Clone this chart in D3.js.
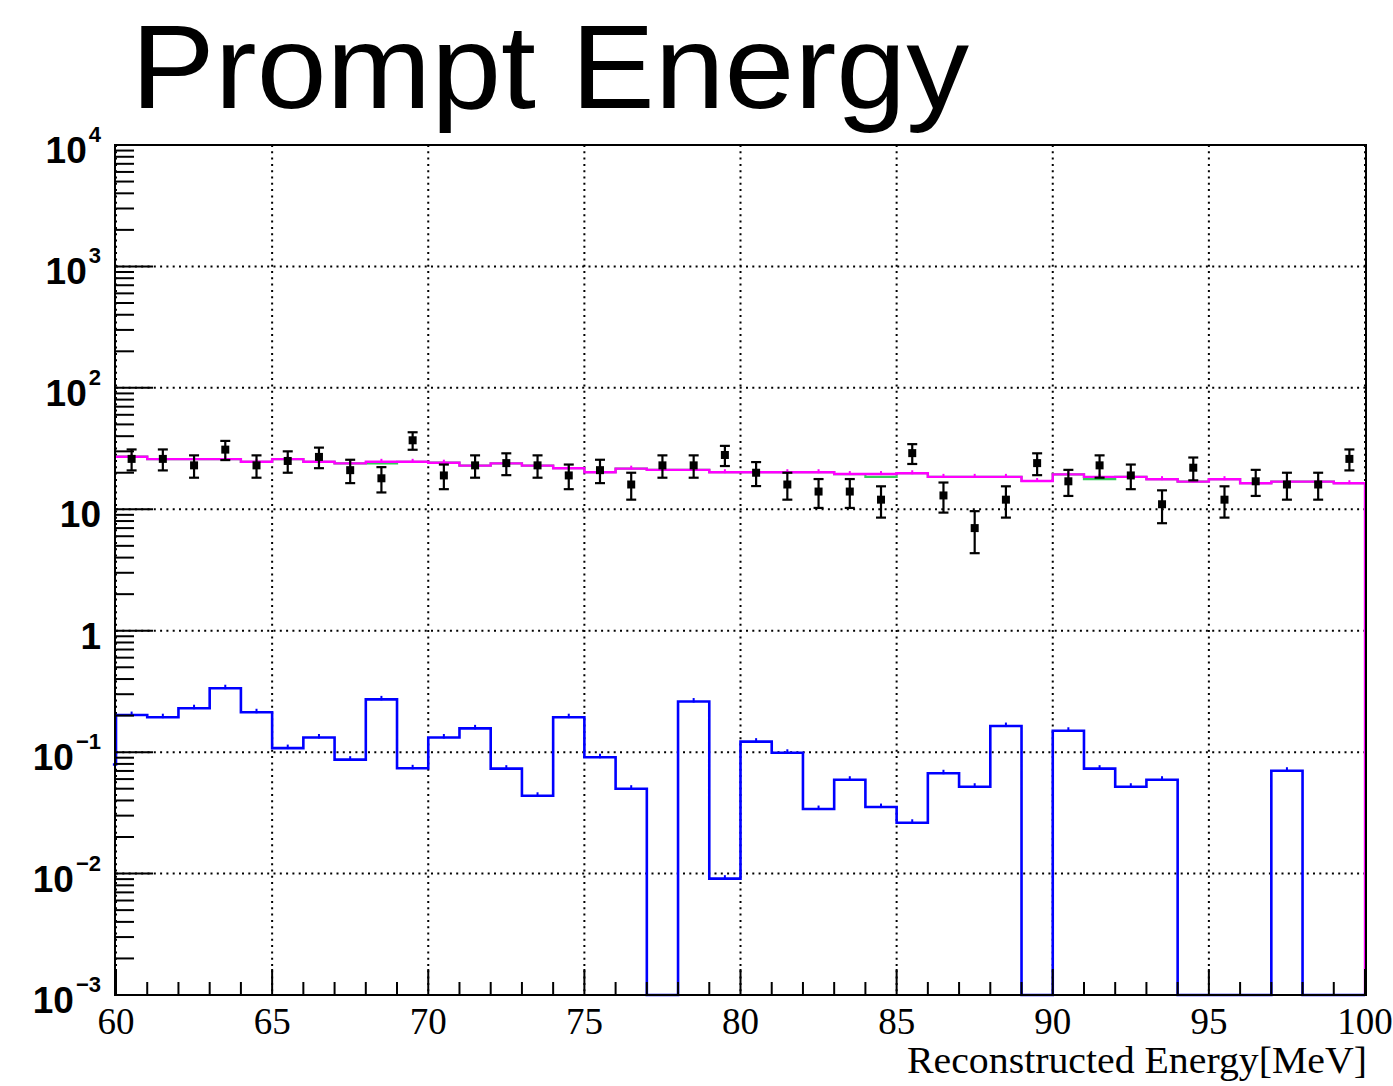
<!DOCTYPE html>
<html>
<head>
<meta charset="utf-8">
<script src="https://cdn.jsdelivr.net/npm/d3@7"></script>
<style>
  html, body { margin: 0; padding: 0; background: #fff; }
  svg { display: block; }
</style>
</head>
<body>
<svg id="chart" width="1393" height="1086"></svg>
<script>
// ---- data ----
const binEdges = d3.range(60, 101, 1); // 60..100, 1 MeV bins
const dataCounts = [26, 26, 23, 31, 23, 25, 27, 21, 18, 37, 19, 23, 24, 23, 19, 21, 16, 23, 23, 28,
                    20, 16, 14, 14, 12, 29, 13, 7, 12, 24, 17, 23, 19, 11, 22, 12, 17, 16, 16, 26];
const dataErrors = [5.10, 5.10, 4.80, 5.57, 4.80, 5.00, 5.20, 4.58, 4.24, 6.08, 4.36, 4.80, 4.90, 4.80, 4.36, 4.58, 4.00, 4.80, 4.80, 5.29,
                    4.47, 4.00, 3.74, 3.74, 3.46, 5.39, 3.61, 2.65, 3.46, 4.90, 4.12, 4.80, 4.36, 3.32, 4.69, 3.46, 4.12, 4.00, 4.00, 5.10];
const totalMC = [27.1, 25.9, 25.9, 25.9, 24.6, 25.9, 24.6, 23.9, 24.6, 24.6, 24.2, 22.9, 23.9, 22.9, 21.8, 20.2, 21.6, 21.1, 21.1, 20.2,
                 20.2, 20.2, 20.2, 19.5, 19.5, 19.8, 18.5, 18.5, 18.5, 17.1, 19.4, 18.5, 18.5, 17.7, 16.9, 17.7, 16.4, 16.9, 16.9, 16.4];
const greenMC = [27.1, 25.9, 25.9, 25.9, 24.6, 25.9, 24.6, 23.9, 23.9, 24.6, 24.2, 22.9, 23.9, 22.9, 21.8, 20.2, 21.6, 21.1, 21.1, 20.2,
                 20.2, 20.2, 20.2, 19.5, 18.5, 19.8, 18.5, 18.5, 18.5, 17.1, 19.4, 17.7, 18.5, 17.7, 16.9, 17.7, 16.4, 16.9, 16.9, 16.4];
const blueMC = [0.202, 0.194, 0.230, 0.336, 0.213, 0.108, 0.132, 0.0867, 0.272, 0.0736,
                0.132, 0.157, 0.0731, 0.0437, 0.194, 0.0908, 0.050, 0, 0.261, 0.00908,
                0.122, 0.0988, 0.0340, 0.0593, 0.0353, 0.0262, 0.0670, 0.0519, 0.164, 0,
                0.150, 0.0731, 0.0519, 0.0593, 0, 0, 0, 0.0703, 0, 0];
const blueUnderflow = 0.079;
const xTickValues = [60, 65, 70, 75, 80, 85, 90, 95, 100];
const yDecades = [-3, -2, -1, 0, 1, 2, 3, 4];
const titleText = "Prompt Energy";
const xAxisTitle = "Reconstructed Energy[MeV]";

(function () {
// ---- layout ----
const svg = d3.select("#chart");
const pL = 116, pR = 1365, pT = 145, pB = 995;
const yMin = 1e-3, yMax = 1e4;
const x = d3.scaleLinear().domain([60, 100]).range([pL, pR]);
const y = d3.scaleLog().domain([yMin, yMax]).range([pB, pT]);
const yc = v => y(Math.max(v, yMin));
const lineGen = d3.line().x(d => x(d[0])).y(d => yc(d[1]));

// title
svg.append("text")
  .attr("x", 131).attr("y", 108)
  .attr("font-family", "'Liberation Sans', Arial, sans-serif")
  .attr("font-size", 119)
  .attr("textLength", 838)
  .attr("lengthAdjust", "spacingAndGlyphs")
  .attr("fill", "#000")
  .text(titleText);

// grid
const grid = svg.append("g").attr("stroke", "#000").attr("stroke-width", 2)
  .attr("stroke-dasharray", "2,4.3");
xTickValues.forEach(t => {
  grid.append("line").attr("x1", x(t)).attr("x2", x(t)).attr("y1", pT).attr("y2", pB);
});
yDecades.forEach(k => {
  const v = Math.pow(10, k);
  grid.append("line").attr("x1", pL).attr("x2", pR).attr("y1", y(v)).attr("y2", y(v));
});

function stepExpand(vals) {
  const out = [];
  vals.forEach((v, i) => { out.push([binEdges[i], v]); out.push([binEdges[i + 1], v]); });
  return out;
}

// green component
svg.append("path")
  .attr("d", lineGen(stepExpand(greenMC)))
  .attr("fill", "none").attr("stroke", "#33cc55").attr("stroke-width", 2.2);

// magenta total (with final drop at upper edge)
const magPts = stepExpand(totalMC);
magPts.push([100, yMin]);
svg.append("path")
  .attr("d", lineGen(magPts))
  .attr("fill", "none").attr("stroke", "#ff00ff").attr("stroke-width", 2.4);
svg.append("g").selectAll("line").data(totalMC).join("line")
  .attr("x1", (d, i) => x(binEdges[i] + 0.5)).attr("x2", (d, i) => x(binEdges[i] + 0.5))
  .attr("y1", d => yc(d) - 3).attr("y2", d => yc(d) + 1)
  .attr("stroke", "#ff00ff").attr("stroke-width", 2);

// blue component
const bluePts = [[binEdges[0] - 0.1, blueUnderflow], [binEdges[0], blueUnderflow]].concat(stepExpand(blueMC));
svg.append("path")
  .attr("d", lineGen(bluePts))
  .attr("fill", "none").attr("stroke", "#0000ff").attr("stroke-width", 2.6);
svg.append("g").selectAll("line").data(blueMC.map((v, i) => ({v, i})).filter(d => d.v > 0)).join("line")
  .attr("x1", d => x(binEdges[d.i] + 0.5)).attr("x2", d => x(binEdges[d.i] + 0.5))
  .attr("y1", d => yc(d.v) - 3.5).attr("y2", d => yc(d.v) + 1)
  .attr("stroke", "#0000ff").attr("stroke-width", 2);

// data points with error bars
const dg = svg.append("g").attr("stroke", "#000").attr("stroke-width", 2.2);
dataCounts.forEach((v, i) => {
  const cx = x(binEdges[i] + 0.5);
  const yHi = y(v + dataErrors[i]), yLo = y(v - dataErrors[i]);
  dg.append("line").attr("x1", cx).attr("x2", cx).attr("y1", yHi).attr("y2", yLo);
  dg.append("line").attr("x1", cx - 5).attr("x2", cx + 5).attr("y1", yHi).attr("y2", yHi);
  dg.append("line").attr("x1", cx - 5).attr("x2", cx + 5).attr("y1", yLo).attr("y2", yLo);
  svg.append("rect").attr("x", cx - 4).attr("y", y(v) - 4).attr("width", 8).attr("height", 8).attr("fill", "#000");
});

// frame
svg.append("rect")
  .attr("x", pL - 1).attr("y", pT).attr("width", pR - pL + 2).attr("height", pB - pT)
  .attr("fill", "none").attr("stroke", "#000").attr("stroke-width", 2);

// x ticks
const ax = svg.append("g").attr("stroke", "#000").attr("stroke-width", 2);
binEdges.forEach(t => {
  const major = (t % 5 === 0);
  ax.append("line").attr("x1", x(t)).attr("x2", x(t)).attr("y1", pB).attr("y2", pB - (major ? 26 : 13));
});
svg.append("g").selectAll("text").data(xTickValues).join("text")
  .attr("x", d => x(d)).attr("y", 1034)
  .attr("text-anchor", "middle")
  .attr("font-family", "'Liberation Serif', 'Times New Roman', serif")
  .attr("font-size", 37)
  .text(d => d);
svg.append("text")
  .attr("x", 1367).attr("y", 1073)
  .attr("text-anchor", "end")
  .attr("font-family", "'Liberation Serif', 'Times New Roman', serif")
  .attr("font-size", 38)
  .attr("textLength", 460)
  .attr("lengthAdjust", "spacingAndGlyphs")
  .text(xAxisTitle);

// y ticks
yDecades.forEach(k => {
  const base = Math.pow(10, k);
  ax.append("line").attr("x1", pL).attr("x2", pL + 37).attr("y1", y(base)).attr("y2", y(base));
  if (k < 4) {
    for (let m = 2; m <= 9; m++) {
      const v = m * base;
      ax.append("line").attr("x1", pL).attr("x2", pL + 18).attr("y1", y(v)).attr("y2", y(v));
    }
  }
});
// y labels
const labelFont = "'Liberation Sans', Arial, Helvetica, sans-serif";
yDecades.forEach(k => {
  const yy = y(Math.pow(10, k));
  const t = svg.append("text")
    .attr("x", 101).attr("y", yy + 18)
    .attr("text-anchor", "end")
    .attr("font-family", labelFont).attr("font-weight", "bold")
    .attr("font-size", 37);
  if (k === 0) { t.text("1"); }
  else if (k === 1) { t.text("10"); }
  else {
    t.append("tspan").text("10");
    t.append("tspan").attr("font-size", 22).attr("dy", -21).attr("dx", 2)
      .text(k < 0 ? "\u2212" + (-k) : String(k));
  }
});
})();
</script>
</body>
</html>
